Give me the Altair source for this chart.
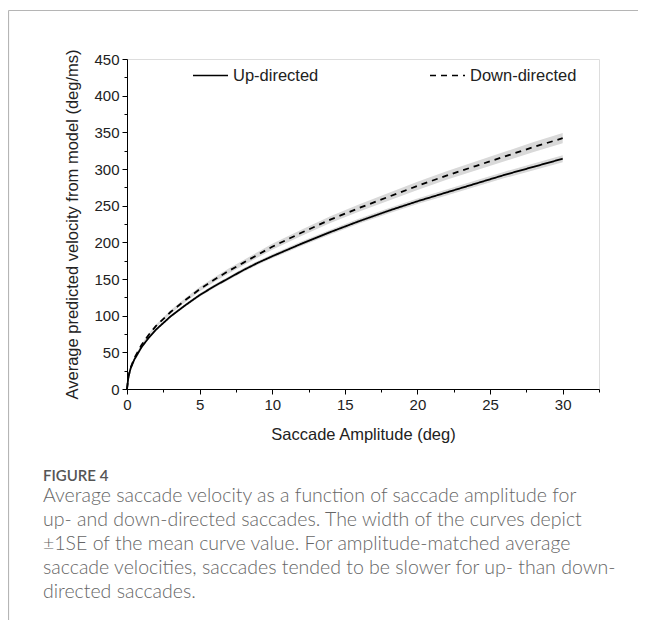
import altair as alt
import pandas as pd

# ---- data ----
amplitude = [0, 0.1, 0.25, 0.5, 1, 1.5, 2, 3, 4, 5, 6, 7, 8, 9, 10,
             12, 14, 16, 18, 20, 22, 24, 26, 28, 30]
up_vel = [0, 17, 28, 40, 57, 70, 81, 99, 114, 128, 140, 151, 162, 172, 181,
          198, 214, 229, 243, 256, 268, 280, 292, 303, 314]
down_vel = [0, 17, 29, 42, 60, 74, 86, 105, 121, 136, 149, 161, 172, 183, 194,
            213, 231, 247, 262, 277, 291, 304, 317, 330, 342]
up_se = [0, 0.5, 0.7, 1.0, 1.2, 1.4, 1.6, 1.8, 2.0, 2.2, 2.4, 2.5, 2.6, 2.7, 2.8,
         3.0, 3.2, 3.4, 3.6, 3.8, 4.0, 4.2, 4.4, 4.6, 4.8]
down_se = [0, 0.6, 0.9, 1.2, 1.5, 1.8, 2.0, 2.4, 2.7, 3.0, 3.2, 3.4, 3.6, 3.8, 4.0,
           4.3, 4.6, 4.9, 5.2, 5.5, 5.8, 6.1, 6.4, 6.7, 7.0]
series_names = ["Up-directed", "Down-directed"]
x_ticks = [0, 2.5, 5, 7.5, 10, 12.5, 15, 17.5, 20, 22.5, 25, 27.5, 30, 32.5]
y_ticks = list(range(0, 451, 25))

caption_head = "FIGURE 4"
caption_lines = [
    "Average saccade velocity as a function of saccade amplitude for",
    "up- and down-directed saccades. The width of the curves depict",
    "\u00b11SE of the mean curve value. For amplitude-matched average",
    "saccade velocities, saccades tended to be slower for up- than down-",
    "directed saccades.",
]

rows = []
for name, vel, se in [(series_names[0], up_vel, up_se), (series_names[1], down_vel, down_se)]:
    for a, v, s in zip(amplitude, vel, se):
        rows.append({"series": name, "amp": a, "vel": v, "lo": v - s, "hi": v + s})
df = pd.DataFrame(rows)

FONT = "Liberation Sans"

x_axis = alt.Axis(
    values=x_ticks,
    labelExpr="datum.value % 5 === 0 ? format(datum.value, 'd') : ''",
    tickSize={"condition": {"test": "datum.value % 5 === 0", "value": 5}, "value": 3},
    grid=False, domainColor="black", tickColor="black", domainWidth=1, tickWidth=1,
    labelFontSize=15, labelColor="#222", labelFont=FONT, labelPadding=3, labelFlush=False,
    title="Saccade Amplitude (deg)", titleFontSize=16.5, titleFontWeight="normal",
    titleFont=FONT, titleColor="#222", titleY=45, titleBaseline="middle",
)
y_axis = alt.Axis(
    values=y_ticks,
    labelExpr="datum.value % 50 === 0 ? format(datum.value, 'd') : ''",
    tickSize={"condition": {"test": "datum.value % 50 === 0", "value": 5}, "value": 3},
    grid=False, domainColor="black", tickColor="black", domainWidth=1, tickWidth=1,
    labelFontSize=15, labelColor="#222", labelFont=FONT, labelPadding=3, labelFlush=False,
    title="Average predicted velocity from model (deg/ms)", titleFontSize=16.5,
    titleFontWeight="normal", titleFont=FONT, titleColor="#222",
    titleX=-55, titleBaseline="middle",
)

xs = alt.Scale(domain=[0, 32.5], nice=False, zero=True)
ys = alt.Scale(domain=[0, 450], nice=False)

base = alt.Chart(df)

band = base.mark_area(color="#d9d9d9", opacity=1).encode(
    x=alt.X("amp:Q", scale=xs, axis=x_axis),
    y=alt.Y("lo:Q", scale=ys, axis=y_axis),
    y2="hi:Q",
    detail="series:N",
)

lines = base.mark_line(color="black", strokeWidth=1.8).encode(
    x=alt.X("amp:Q", scale=xs, axis=x_axis),
    y=alt.Y("vel:Q", scale=ys, axis=y_axis),
    strokeDash=alt.StrokeDash(
        "series:N",
        scale=alt.Scale(domain=series_names, range=[[1, 0], [6, 5]]),
        legend=alt.Legend(
            title=None, orient="none", legendX=65, legendY=-2,
            direction="horizontal", symbolType="stroke", symbolSize=1225,
            symbolStrokeWidth=1.5, symbolStrokeColor="black",
            labelFont=FONT, labelFontSize=16.5, labelColor="#222",
            labelOffset=4, columnPadding=108, padding=0,
        ),
    ),
)

frame_df = pd.DataFrame({"k": [0]})
left_border = alt.Chart(frame_df).mark_rule(color="#b5b5b5", strokeWidth=1.2).encode(
    x=alt.value(-118.5), y=alt.value(-48.5), y2=alt.value(565)
)
top_border = alt.Chart(frame_df).mark_rule(color="#b5b5b5", strokeWidth=1.2).encode(
    x=alt.value(-118.5), x2=alt.value(515), y=alt.value(-48.5)
)

chart = alt.layer(left_border, top_border, band, lines).properties(
    width=472,
    height=330,
    autosize=alt.AutoSizeParams(type="none"),
    padding={"left": 119, "top": 51, "right": 39, "bottom": 231},
    title=alt.TitleParams(
        text=caption_head,
        subtitle=caption_lines,
        orient="bottom", anchor="start", frame="group", dx=-84, offset=-156,
        font="Lato", fontSize=15, fontWeight=600, color="#555",
        subtitleFont="Lato", subtitleFontSize=19.5, subtitleFontWeight=300,
        subtitleColor="#666", subtitleLineHeight=24, subtitlePadding=3,
    ),
).configure_view(stroke=None).configure(background="white")

chart.save("out.html", embed_options={"renderer": "svg", "actions": False})
